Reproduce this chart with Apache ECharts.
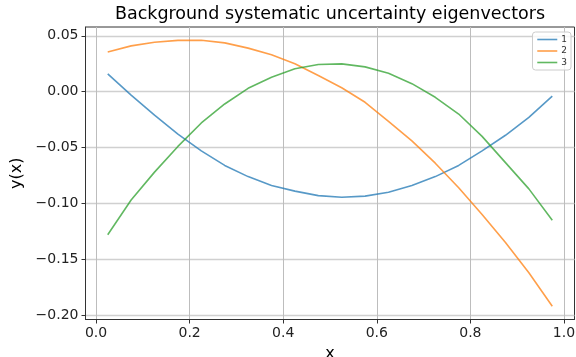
<!DOCTYPE html>
<html><head><meta charset="utf-8">
<script src="https://cdn.jsdelivr.net/npm/echarts@6/dist/echarts.min.js"></script>
<style>html,body{margin:0;padding:0;background:#fff}#c{width:576px;height:357px}</style>
</head><body><div id="c"></div>
<script>
const xValues = [0.025,0.075,0.125,0.175,0.225,0.275,0.325,0.375,0.425,0.475,0.525,0.575,0.625,0.675,0.725,0.775,0.825,0.875,0.925,0.975];
const ev1 = [0.016,-0.003,-0.021,-0.038,-0.053,-0.066,-0.076,-0.084,-0.089,-0.093,-0.0945,-0.0935,-0.090,-0.084,-0.076,-0.066,-0.053,-0.039,-0.023,-0.004];
const ev2 = [0.0356,0.041,0.0443,0.0459,0.0460,0.0437,0.039,0.033,0.025,0.0145,0.0035,-0.0095,-0.0265,-0.044,-0.064,-0.086,-0.110,-0.135,-0.162,-0.192];
const ev3 = [-0.128,-0.097,-0.072,-0.049,-0.028,-0.011,0.003,0.013,0.0205,0.0243,0.0249,0.0222,0.0165,0.0072,-0.005,-0.020,-0.040,-0.0635,-0.087,-0.115];
const seriesNames = ['1','2','3'];
const xTicks = [0.0,0.2,0.4,0.6,0.8,1.0];
const yTicks = [-0.20,-0.15,-0.10,-0.05,0.00,0.05];
const titleText = 'Background systematic uncertainty eigenvectors';

const colors = ['rgba(31,119,180,0.75)','rgba(255,127,14,0.75)','rgba(44,160,44,0.75)'];
const font = 'DejaVu Sans';
const fmtY = v => (v < 0 ? '\u2212' : '') + Math.abs(v).toFixed(2);
const fmtX = v => v.toFixed(1);
const chart = echarts.init(document.getElementById('c'), null, {renderer:'canvas'});
const mk = (vals) => xValues.map((x,i)=>[x, vals[i]]);
chart.setOption({
  animation:false,
  color: colors,
  graphic:[{type:'text',x:330,y:14,silent:true,style:{text:titleText,align:'center',verticalAlign:'middle',
    fontFamily:font,fontSize:17.5,fill:'#000'}}],
  grid:{left:85.5,right:1.5,top:27,bottom:37.5,containLabel:false,outerBoundsMode:'none',show:true,borderColor:'#333',borderWidth:1},
  legend:{orient:'vertical',right:5,top:32,itemWidth:20,itemHeight:10,itemGap:2.5,padding:[3,4,3,4],
    borderColor:'#ccc',borderWidth:1,borderRadius:3,backgroundColor:'rgba(255,255,255,0.8)',
    itemStyle:{opacity:0,borderWidth:0},lineStyle:{width:1.6},
    textStyle:{fontFamily:font,fontSize:9,color:'#333',padding:[0,0,0,-1]},data:seriesNames},
  xAxis:{type:'value',min:-0.0225,max:1.0225,name:'x',nameLocation:'middle',nameGap:21.5,
    nameTextStyle:{fontFamily:font,fontSize:16,color:'#000'},
    axisLine:{show:true,onZero:false,lineStyle:{color:'#333',width:1}},
    axisTick:{show:true,inside:false,length:4,customValues:xTicks,lineStyle:{color:'#333'}},
    axisLabel:{customValues:xTicks,formatter:fmtX,margin:7,fontFamily:font,fontSize:14,color:'#222'},
    splitLine:{show:true,lineStyle:{color:'#bdbdbd',width:1}}},
  yAxis:{type:'value',min:-0.2039,max:0.0579,name:'y(x)',nameLocation:'middle',nameGap:57,
    nameTextStyle:{fontFamily:font,fontSize:16,color:'#000'},
    axisLine:{show:true,onZero:false,lineStyle:{color:'#333',width:1}},
    axisTick:{show:true,inside:false,length:4,customValues:yTicks,lineStyle:{color:'#333'}},
    axisLabel:{customValues:yTicks,formatter:fmtY,margin:7,fontFamily:font,fontSize:14,color:'#222'},
    splitLine:{show:true,lineStyle:{color:'#d0d0d0',width:1.3}}},
  series:[ev1,ev2,ev3].map((v,i)=>({name:seriesNames[i],type:'line',data:mk(v),symbol:'none',
    lineStyle:{width:1.6,color:colors[i]},itemStyle:{color:colors[i]}}))
});
</script></body></html>
